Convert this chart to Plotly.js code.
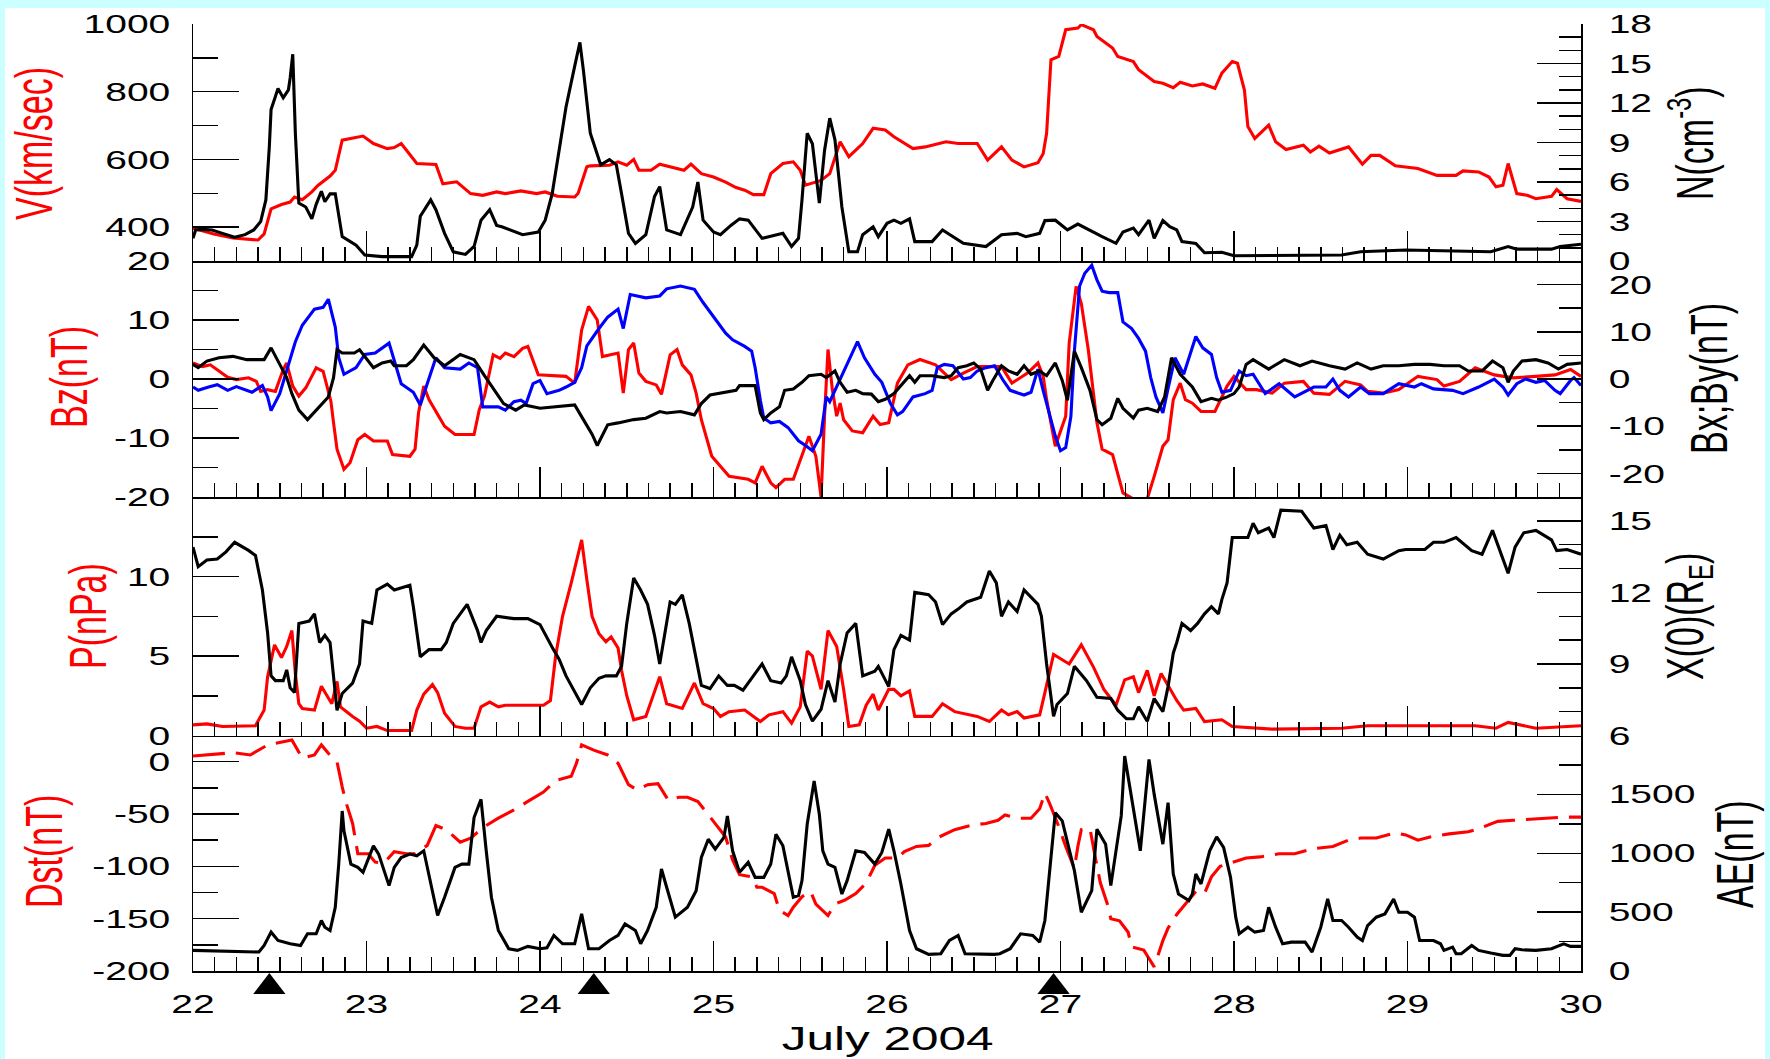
<!DOCTYPE html>
<html><head><meta charset="utf-8">
<script src="https://cdn.plot.ly/plotly-3.0.1.min.js"></script>
<style>
html,body{margin:0;padding:0;background:#ccffff;overflow:hidden;width:1770px;height:1059px}
#chart{position:absolute;left:5px;top:8px;width:1760px;height:1051px;background:#fff}
</style></head><body><div id="chart"></div>
<script>
// ---------------- data (day of July 2004) ----------------
const vDay=[22.0,22.12,22.23,22.375,22.41,22.45,22.51,22.56,22.585,22.63,22.685,22.72,22.79,22.82,22.86,22.98,23.04,23.12,23.16,23.2,23.29,23.40,23.44,23.52,23.60,23.67,23.75,23.80,23.89,23.98,24.03,24.10,24.20,24.22,24.27,24.29,24.40,24.45,24.50,24.54,24.57,24.64,24.69,24.78,24.83,24.87,24.93,25.0,25.07,25.13,25.18,25.23,25.29,25.33,25.40,25.46,25.50,25.53,25.62,25.67,25.73,25.78,25.86,25.92,25.99,26.04,26.15,26.22,26.29,26.34,26.41,26.52,26.58,26.66,26.72,26.79,26.87,26.90,26.92,26.945,26.99,27.03,27.10,27.12,27.19,27.21,27.30,27.33,27.42,27.45,27.54,27.59,27.65,27.69,27.76,27.82,27.89,27.93,27.99,28.02,28.06,28.08,28.12,28.20,28.24,28.30,28.40,28.44,28.49,28.55,28.66,28.74,28.79,28.84,28.93,29.06,29.17,29.28,29.32,29.41,29.47,29.51,29.55,29.58,29.63,29.69,29.74,29.83,29.86,29.92,30.0];
const vVal=[397,380,368,362,380,454,467,474,489,481,504,523,551,568,657,669,647,632,635,647,588,585,528,534,499,494,504,499,507,499,504,491,489,500,578,581,583,593,583,600,568,568,586,573,568,586,558,548,533,517,509,496,496,558,588,593,568,524,538,558,652,608,647,692,687,667,632,637,647,652,647,647,598,637,598,578,590,617,677,894,904,983,988,998,983,963,929,904,889,865,830,825,812,828,817,823,810,855,889,884,805,697,662,701,652,629,642,622,639,619,637,586,612,612,581,573,553,553,566,563,548,519,524,588,499,494,484,491,511,484,476];

const nDay=[22.0,22.015,22.055,22.11,22.17,22.24,22.3,22.35,22.39,22.42,22.44,22.45,22.475,22.49,22.52,22.55,22.56,22.575,22.59,22.61,22.65,22.685,22.71,22.74,22.76,22.79,22.82,22.86,22.94,22.99,23.09,23.26,23.29,23.31,23.37,23.40,23.45,23.50,23.57,23.62,23.66,23.71,23.75,23.78,23.90,23.99,24.03,24.07,24.11,24.15,24.20,24.23,24.25,24.27,24.29,24.31,24.35,24.40,24.44,24.47,24.51,24.55,24.61,24.66,24.69,24.73,24.81,24.88,24.91,24.94,25.0,25.04,25.10,25.15,25.20,25.28,25.40,25.45,25.49,25.51,25.54,25.57,25.61,25.64,25.67,25.70,25.74,25.78,25.83,25.86,25.92,25.95,26.0,26.04,26.08,26.13,26.16,26.26,26.32,26.44,26.57,26.66,26.75,26.80,26.88,26.91,26.97,27.04,27.10,27.24,27.32,27.36,27.42,27.45,27.51,27.54,27.59,27.63,27.67,27.70,27.78,27.83,27.93,28.0,28.62,28.73,28.99,29.48,29.58,29.63,29.83,29.88,30.0];
const nVal=[1.72,2.36,2.4,2.36,2.1,1.8,2.0,2.36,3.0,4.64,8.7,11.5,12.5,13.1,12.4,13.0,13.9,15.7,9.7,4.4,4.1,3.2,4.3,5.3,4.5,5.1,5.1,1.85,1.2,0.46,0.33,0.33,1.2,3.4,4.64,3.9,2.1,0.7,0.5,1.1,3.1,3.9,2.7,2.6,2.0,2.2,3.1,5.1,8.4,11.7,14.8,16.6,14.5,12.2,9.7,8.9,7.3,7.7,7.3,5.1,2.1,1.34,2.0,4.9,5.65,2.36,2.0,4.1,6.0,3.1,2.2,2.0,2.7,3.2,3.1,1.72,2.1,1.1,1.72,4.64,9.7,8.9,4.4,8.4,10.85,9.2,4.1,0.7,0.7,2.0,2.6,1.85,2.86,3.1,2.86,3.2,1.47,1.47,2.36,1.34,1.1,2.0,2.1,1.85,2.1,3.07,3.1,2.36,2.8,1.85,1.34,2.2,2.5,2.0,3.1,1.72,3.07,2.6,2.36,1.47,1.34,0.63,0.66,0.4,0.46,0.7,0.84,0.7,1.1,0.9,0.9,1.1,1.27];

const bzDay=[22.0,22.055,22.10,22.155,22.2,22.25,22.32,22.365,22.39,22.43,22.475,22.52,22.54,22.575,22.61,22.65,22.71,22.75,22.795,22.81,22.83,22.87,22.905,22.95,22.99,23.04,23.12,23.15,23.25,23.28,23.30,23.33,23.36,23.45,23.51,23.62,23.65,23.68,23.73,23.77,23.80,23.85,23.90,23.93,23.99,24.15,24.20,24.24,24.28,24.33,24.36,24.45,24.48,24.51,24.54,24.57,24.61,24.67,24.70,24.75,24.79,24.82,24.87,24.90,24.93,24.99,25.09,25.20,25.24,25.28,25.33,25.36,25.41,25.46,25.53,25.55,25.59,25.62,25.64,25.66,25.685,25.71,25.73,25.75,25.80,25.86,25.92,25.96,26.01,26.06,26.12,26.19,26.28,26.37,26.44,26.52,26.66,26.72,26.81,26.87,26.90,26.92,26.97,27.03,27.05,27.09,27.12,27.16,27.21,27.24,27.30,27.36,27.43,27.50,27.54,27.59,27.62,27.65,27.69,27.72,27.76,27.81,27.89,27.96,28.0,28.07,28.13,28.22,28.29,28.40,28.46,28.55,28.64,28.73,28.77,28.86,28.95,29.06,29.17,29.21,29.30,29.39,29.50,29.61,29.74,29.85,29.94,30.0];
const bzVal=[2.7,2.1,2.4,1.3,0.3,-0.1,0.2,-0.4,-2.1,-1.8,-2.1,1.6,2.7,-1.2,-2.9,-1.5,1.9,1.3,-3.8,-7.4,-11.9,-15.3,-14.2,-10.3,-9.4,-10.5,-10.5,-12.8,-13.1,-11.9,-5.7,-1.2,-3.5,-8.0,-9.4,-9.4,-5.2,-2.9,4.1,3.5,4.4,3.8,5.2,5.5,0.7,0.45,-0.7,8.3,12.3,10.0,3.8,4.4,-2.4,5.0,6.1,1.0,-0.4,-1.0,-2.6,4.1,5.0,2.4,0.7,-2.4,-6.9,-13.1,-16.5,-17.0,-17.6,-14.8,-17.6,-18.4,-17.0,-17.0,-11.4,-9.7,-13.1,-20.0,-6.3,5.0,-1.8,-6.3,-4.1,-6.9,-8.8,-9.1,-6.3,-7.7,-7.4,-0.7,2.4,3.3,2.4,-0.1,1.0,2.1,2.1,-0.7,1.0,2.7,0.5,-3.5,-11.4,-6.3,6.1,15.7,12.8,5.0,-7.4,-11.9,-12.8,-19.3,-20.5,-20.3,-16.5,-11.4,-10.3,-3.5,-0.7,-3.5,-4.1,-5.5,-5.5,-1.2,0.45,-1.8,-1.8,-2.4,-0.7,-0.4,-2.4,-2.6,-0.4,-1.0,-2.1,-2.4,-1.8,0.45,-0.1,-1.2,-0.4,1.9,0.7,0.2,0.45,0.7,1.6,0.45];

const byDay=[22.0,22.03,22.09,22.14,22.2,22.25,22.34,22.40,22.43,22.45,22.50,22.54,22.59,22.63,22.70,22.75,22.78,22.82,22.84,22.87,22.94,22.99,23.05,23.13,23.16,23.20,23.27,23.31,23.35,23.40,23.45,23.54,23.59,23.64,23.67,23.76,23.80,23.85,23.89,23.92,23.96,24.0,24.04,24.11,24.15,24.20,24.24,24.27,24.34,24.39,24.45,24.48,24.52,24.61,24.69,24.73,24.81,24.89,24.94,25.0,25.07,25.11,25.18,25.22,25.24,25.27,25.29,25.33,25.38,25.43,25.49,25.53,25.57,25.62,25.65,25.67,25.70,25.73,25.77,25.83,25.87,25.93,25.97,26.02,26.06,26.09,26.15,26.22,26.26,26.29,26.33,26.38,26.44,26.48,26.52,26.57,26.62,26.67,26.71,26.79,26.83,26.87,26.90,26.93,26.97,27.0,27.03,27.06,27.08,27.11,27.14,27.18,27.21,27.24,27.28,27.33,27.36,27.41,27.45,27.49,27.52,27.55,27.59,27.62,27.66,27.71,27.78,27.82,27.87,27.90,27.93,27.98,28.03,28.07,28.11,28.18,28.26,28.35,28.46,28.53,28.57,28.61,28.66,28.73,28.78,28.86,28.95,29.04,29.08,29.15,29.26,29.32,29.41,29.50,29.55,29.58,29.63,29.68,29.74,29.79,29.85,29.88,29.94,29.96,30.0];
const byVal=[-1.7,-2.4,-1.7,-1.2,-2.4,-1.6,-2.8,-1.4,-3.8,-6.7,-3.1,1.7,7.9,11.4,14.8,15.2,16.9,11.0,4.5,1.0,2.4,5.2,5.5,7.6,3.8,-1.0,-2.8,-5.5,-1.0,4.5,2.4,2.1,3.4,2.4,-5.9,-5.9,-6.6,-4.8,-4.5,-5.2,-1.0,-0.3,-3.1,-2.4,-1.7,-0.7,2.4,7.0,10.7,13.1,14.8,10.7,17.9,17.2,17.6,19.1,19.7,19.0,16.2,13.1,9.7,8.3,6.9,5.9,2.4,-4.5,-8.3,-9.3,-9.0,-10.3,-13.1,-14.1,-15.2,-11.7,-3.8,-4.8,-2.4,-0.3,3.1,7.9,4.5,1.0,-0.7,-5.2,-7.6,-6.9,-3.8,-3.1,-2.4,2.4,3.1,2.8,0,0.3,1.7,2.4,2.8,-0.3,-2.4,-3.4,-2.8,2.1,-2.4,-6.6,-12.1,-15.2,-14.5,-7.9,5.9,19.7,22.4,24.1,21.0,18.6,18.3,18.3,12.1,10.7,8.6,5.9,0.3,-3.8,-7.2,-2.0,4.5,1.0,9.0,6.6,5.2,0.3,-2.8,-2.4,1.7,0.7,1.0,-3.1,-1.0,-3.8,-1.7,-1.7,0,-2.4,-3.8,-1.7,-3.1,-3.1,-1.0,-1.7,-1.0,-2.1,-2.4,-3.1,-1.7,0,-1.7,-3.4,-1.0,0,-0.7,-0.3,-2.4,-3.1,-0.3,0.3,-1.4];

const bxDay=[22.0,22.03,22.08,22.15,22.23,22.31,22.41,22.45,22.50,22.54,22.57,22.61,22.66,22.73,22.78,22.81,22.83,22.86,22.93,22.96,23.01,23.04,23.09,23.14,23.16,23.23,23.27,23.33,23.39,23.45,23.54,23.62,23.68,23.73,23.79,23.86,23.91,24.0,24.07,24.20,24.25,24.30,24.33,24.39,24.45,24.54,24.61,24.69,24.73,24.81,24.89,24.93,24.98,25.07,25.13,25.15,25.24,25.27,25.29,25.33,25.38,25.41,25.46,25.51,25.55,25.62,25.65,25.70,25.73,25.77,25.82,25.86,25.91,25.95,25.99,26.04,26.09,26.13,26.16,26.19,26.26,26.33,26.37,26.41,26.46,26.50,26.54,26.58,26.61,26.66,26.70,26.75,26.79,26.83,26.88,26.92,26.97,27.01,27.04,27.08,27.12,27.17,27.21,27.24,27.29,27.33,27.36,27.42,27.45,27.50,27.56,27.60,27.64,27.69,27.76,27.81,27.87,27.91,27.96,28.0,28.03,28.07,28.11,28.20,28.29,28.38,28.45,28.55,28.64,28.71,28.79,28.86,28.95,29.04,29.13,29.21,29.30,29.35,29.43,29.49,29.55,29.58,29.61,29.66,29.74,29.81,29.87,29.92,30.0];
const bxVal=[3.1,2.4,3.8,4.5,4.8,4.1,4.1,6.6,3.1,0.3,-3.1,-6.6,-8.6,-5.9,-3.8,0.3,6.2,5.5,5.5,6.2,3.8,2.4,3.4,3.8,2.8,2.8,4.1,7.2,4.5,2.8,5.2,4.1,0.7,-2.1,-5.2,-6.6,-5.5,-6.2,-5.9,-5.5,-8.6,-11.7,-14.1,-9.7,-9.3,-8.6,-8.3,-6.9,-7.2,-6.9,-7.6,-5.2,-3.4,-2.8,-2.4,-1.4,-1.4,-7.2,-8.6,-7.2,-5.9,-2.4,-2.1,-0.7,0.7,1.0,0.3,1.7,-0.7,-2.8,-2.4,-3.1,-3.2,-4.8,-4.3,-3.1,-1.0,0.7,-0.7,0.7,0.7,0.3,0.7,2.4,2.8,3.4,2.1,-2.4,-0.3,2.8,1.7,1.0,2.8,1.0,1.7,0.7,3.4,-0.3,-4.5,5.9,2.4,-2.4,-8.6,-9.7,-8.3,-4.1,-6.2,-8.3,-6.6,-6.2,-6.9,-3.8,4.5,1.0,-1.7,-4.8,-4.1,-4.5,-3.8,-3.1,-1.7,3.1,4.1,2.1,4.1,2.8,3.8,2.8,2.1,3.4,2.1,2.8,2.8,3.1,3.1,2.8,2.8,1.7,1.7,3.8,2.4,-0.7,1.7,3.8,4.1,3.4,2.1,3.1,3.4];

const pDay=[22.0,22.08,22.17,22.36,22.41,22.43,22.47,22.51,22.54,22.57,22.59,22.61,22.63,22.70,22.74,22.77,22.80,22.83,22.85,22.92,22.96,23.0,23.06,23.12,23.26,23.29,23.33,23.38,23.41,23.45,23.51,23.57,23.62,23.66,23.71,23.76,23.80,24.02,24.06,24.09,24.13,24.18,24.22,24.24,24.27,24.30,24.34,24.38,24.41,24.45,24.47,24.50,24.54,24.61,24.69,24.73,24.82,24.89,24.94,25.0,25.04,25.09,25.18,25.22,25.27,25.32,25.40,25.45,25.50,25.54,25.57,25.62,25.66,25.71,25.75,25.78,25.84,25.88,25.92,25.95,26.01,26.04,26.08,26.13,26.16,26.26,26.32,26.39,26.52,26.59,26.66,26.70,26.75,26.79,26.88,26.91,26.96,27.05,27.12,27.19,27.25,27.32,27.37,27.42,27.45,27.50,27.54,27.58,27.62,27.67,27.71,27.78,27.83,27.93,27.99,28.22,28.62,28.77,29.39,29.51,29.58,29.74,30.0];
const pVal=[0.67,0.73,0.57,0.61,1.6,3.7,5.7,4.9,5.6,6.6,3.9,2.0,1.7,1.6,3.1,2.5,2.0,3.4,1.8,1.2,0.9,0.46,0.57,0.31,0.31,1.6,2.6,3.2,2.7,1.4,0.57,0.46,0.46,1.8,2.1,1.8,1.9,1.9,2.2,5.0,7.5,9.6,11.3,12.3,9.8,7.5,6.4,5.9,6.2,5.5,4.1,2.5,0.99,1.2,3.7,2.0,1.7,3.3,2.0,1.7,1.2,1.5,1.6,1.3,0.88,1.3,1.5,0.78,1.8,5.3,5.0,2.9,6.6,5.6,2.9,0.57,0.67,1.9,2.6,1.6,2.9,2.9,2.5,2.8,1.2,1.2,2.0,1.5,1.2,0.88,1.6,1.3,1.5,1.1,1.3,2.7,5.1,4.5,5.7,4.3,2.9,1.9,3.5,3.7,2.7,4.1,2.5,3.9,3.1,2.2,1.6,1.7,0.88,0.99,0.57,0.4,0.46,0.61,0.61,0.46,0.82,0.46,0.61];

const x0Day=[22.0,22.03,22.08,22.14,22.19,22.24,22.32,22.36,22.40,22.43,22.45,22.475,22.52,22.54,22.56,22.585,22.61,22.67,22.70,22.73,22.76,22.79,22.83,22.86,22.92,22.96,22.98,23.03,23.06,23.12,23.16,23.25,23.27,23.31,23.36,23.43,23.46,23.50,23.58,23.64,23.66,23.69,23.75,23.85,23.93,24.0,24.07,24.11,24.15,24.20,24.24,24.29,24.34,24.38,24.44,24.47,24.50,24.54,24.58,24.62,24.66,24.69,24.75,24.78,24.82,24.86,24.89,24.93,24.98,25.03,25.08,25.12,25.17,25.23,25.28,25.33,25.39,25.42,25.45,25.50,25.53,25.57,25.62,25.66,25.70,25.73,25.77,25.82,25.86,25.93,25.95,26.01,26.04,26.08,26.13,26.16,26.24,26.28,26.32,26.37,26.41,26.46,26.54,26.59,26.63,26.66,26.70,26.75,26.79,26.87,26.89,26.92,26.96,26.98,27.04,27.08,27.15,27.21,27.29,27.33,27.38,27.42,27.45,27.50,27.54,27.59,27.62,27.65,27.67,27.70,27.75,27.79,27.83,27.87,27.91,27.93,27.96,27.99,28.08,28.11,28.14,28.20,28.23,28.27,28.39,28.46,28.53,28.57,28.61,28.65,28.71,28.77,28.86,28.95,28.99,29.10,29.15,29.21,29.28,29.37,29.43,29.49,29.52,29.58,29.62,29.67,29.74,29.83,29.86,29.92,30.0];
const x0Val=[13.9,13.08,13.36,13.4,13.7,14.1,13.76,13.55,12.1,10.3,8.5,8.3,8.3,8.75,8.0,7.8,10.7,10.8,11.1,9.9,10.2,9.9,7.06,7.76,8.2,9.0,10.8,10.7,12.1,12.35,12.1,12.3,11.4,9.3,9.6,9.6,9.9,10.7,11.5,10.4,9.9,10.4,11.0,10.9,10.9,10.65,9.7,9.2,8.5,7.8,7.3,8.0,8.4,8.5,8.5,8.9,10.7,12.6,12.1,11.5,10.2,9.0,11.6,11.5,11.9,10.7,9.6,8.1,7.97,8.5,8.1,8.1,7.9,8.5,9.0,8.3,8.2,8.5,9.3,8.3,7.3,6.6,7.1,8.3,7.4,9.0,10.3,10.7,8.5,8.7,8.9,8.05,9.6,10.2,10.0,12.0,11.9,11.6,10.65,11.1,11.3,11.6,11.8,12.9,12.4,11.0,11.6,11.2,12.1,11.5,11.0,9.0,6.8,7.3,7.76,8.9,8.3,7.6,7.55,7.06,6.7,6.7,7.2,6.6,7.55,7.0,8.05,9.45,9.9,10.7,10.4,10.7,11.1,11.4,11.1,11.7,12.4,14.3,14.3,14.9,14.5,14.7,14.3,15.45,15.4,14.7,14.8,13.8,14.4,14.0,14.1,13.6,13.4,13.75,13.8,13.8,14.1,14.1,14.3,13.75,13.6,14.6,14.0,12.8,13.9,14.5,14.6,14.2,13.75,13.8,13.6];

const dstDay=[22.0,22.12,22.23,22.33,22.43,22.57,22.63,22.70,22.74,22.78,22.83,22.86,22.88,22.92,22.95,23.01,23.05,23.10,23.16,23.23,23.28,23.35,23.40,23.46,23.54,23.60,23.68,23.76,23.85,23.93,24.02,24.09,24.18,24.21,24.24,24.31,24.39,24.45,24.47,24.51,24.56,24.62,24.68,24.74,24.80,24.85,24.91,24.98,25.02,25.07,25.11,25.15,25.22,25.25,25.28,25.35,25.38,25.43,25.46,25.51,25.56,25.59,25.66,25.70,25.76,25.82,25.88,25.93,25.99,26.06,26.10,26.17,26.24,26.30,26.39,26.48,26.57,26.64,26.68,26.75,26.83,26.88,26.91,26.94,26.99,27.03,27.08,27.10,27.12,27.17,27.20,27.23,27.27,27.29,27.34,27.39,27.41,27.48,27.54,27.57,27.59,27.62,27.67,27.72,27.78,27.83,27.87,27.92,28.0,28.07,28.15,28.26,28.35,28.46,28.57,28.66,28.73,28.82,28.93,28.99,29.06,29.13,29.24,29.35,29.41,29.52,29.61,29.70,29.81,29.90,30.0];
const dstVal=[5.4,7.3,8.6,6.4,16,20.7,3.2,6.4,16,8,0,-24,-38,-59,-88,-88,-96,-97,-86,-88,-88,-80,-61,-65,-77,-73,-62,-54,-46,-38,-29,-18,-14,-1.6,16,11,6.4,-1.6,-8,-22,-27,-22,-21,-37,-34,-34,-38,-53,-62,-72,-94,-108,-110,-120,-120,-126,-142,-147,-139,-129,-124,-136,-147,-136,-132,-126,-116,-99,-92,-92,-86,-81,-80,-72,-65,-61,-59,-56,-51,-54,-54,-45,-30,-41,-62,-81,-102,-81,-65,-64,-91,-116,-136,-150,-152,-163,-177,-180,-196,-180,-171,-159,-146,-136,-124,-126,-110,-100,-96,-92,-91,-88,-88,-83,-81,-75,-73,-73,-68,-70,-75,-72,-69,-67,-64,-57,-56,-55,-54,-53,-53];

const aeDay=[22.0,22.12,22.25,22.38,22.41,22.45,22.49,22.56,22.62,22.66,22.71,22.74,22.76,22.79,22.82,22.84,22.86,22.87,22.91,22.95,22.98,23.04,23.07,23.13,23.16,23.20,23.25,23.29,23.33,23.36,23.41,23.45,23.51,23.55,23.59,23.62,23.66,23.69,23.72,23.76,23.82,23.87,23.93,24.0,24.04,24.08,24.13,24.20,24.24,24.28,24.34,24.40,24.45,24.49,24.55,24.58,24.62,24.67,24.70,24.73,24.78,24.85,24.90,24.93,24.97,25.01,25.06,25.08,25.11,25.15,25.20,25.24,25.29,25.33,25.36,25.40,25.43,25.46,25.49,25.51,25.54,25.58,25.61,25.63,25.66,25.70,25.74,25.77,25.82,25.87,25.93,25.97,26.01,26.04,26.08,26.13,26.17,26.24,26.31,26.36,26.41,26.45,26.62,26.65,26.71,26.77,26.84,26.88,26.91,26.94,26.97,27.01,27.08,27.12,27.18,27.21,27.26,27.29,27.35,27.37,27.40,27.46,27.51,27.54,27.59,27.62,27.65,27.68,27.74,27.76,27.78,27.81,27.86,27.90,27.94,27.98,28.01,28.03,28.08,28.12,28.17,28.20,28.24,28.28,28.33,28.41,28.45,28.50,28.54,28.57,28.62,28.66,28.71,28.74,28.77,28.82,28.87,28.92,28.95,29.0,29.04,29.07,29.15,29.19,29.21,29.26,29.28,29.31,29.37,29.41,29.48,29.55,29.59,29.62,29.66,29.74,29.83,29.90,29.94,30.0];
const aeVal=[175,169,161,161,217,330,259,231,217,316,316,429,372,344,541,908,1359,1190,908,880,838,1063,993,725,880,964,993,979,1021,823,471,626,880,908,908,1303,1458,1021,626,344,189,175,209,189,197,302,231,231,485,189,189,259,302,400,344,231,344,541,866,711,457,541,682,964,1119,1035,1134,1317,1021,838,922,795,795,908,1162,1063,852,626,640,767,1246,1613,1331,1021,908,880,654,767,1021,1007,908,1007,1204,1021,739,344,189,141,147,259,302,147,141,147,189,316,302,245,429,908,1345,1275,852,499,682,1204,1077,725,1317,1825,1543,1021,1796,1500,1077,1430,823,654,598,654,823,739,1021,1139,1049,795,457,316,372,330,344,541,372,231,245,245,161,372,612,429,429,372,288,259,386,457,485,612,499,499,457,259,259,231,175,203,147,147,217,175,152,133,133,189,180,175,189,231,209,209];

// storm-onset markers (triangles under the time axis)
const eventDay=[22.44,24.31,26.96];

// ---------------- axes / ticks ----------------
const dayRange=[22,30];
const dayTicks=[22,23,24,25,26,27,28,29,30];
const dayMinor=[]; for(let d=22;d<30;d+=0.125){ if(Math.abs(d-Math.round(d))>1e-6) dayMinor.push(+d.toFixed(3)); }
const vRange=[300,1000], vTicks=[400,600,800,1000], vMinor=[500,700,900];
const nRange=[0,18], nTicks=[0,3,6,9,12,15,18], nMinor=[1,2,4,5,7,8,10,11,13,14,16,17];
const bzRange=[-20,20], bzTicks=[-20,-10,0,10,20], bzText=['-20','-10','0','10','20'], bzMinor=[-15,-5,5,15];
const bxyRange=[-25,25], bxyTicks=[-20,-10,0,10,20], bxyText=['-20','-10','0','10','20'], bxyMinor=[-15,-5,5,15];
const pRange=[0,15], pTicks=[0,5,10], pMinor=[2.5,7.5,12.5];
const x0Range=[6,16], x0Ticks=[6,9,12,15], x0Minor=[7,8,10,11,13,14];
const dstRange=[-200,25], dstTicks=[-200,-150,-100,-50,0], dstText=['-200','-150','-100','-50','0'], dstMinor=[-175,-125,-75,-25];
const aeRange=[0,2000], aeTicks=[0,500,1000,1500], aeMinor=[250,750,1250,1750];

const FONT='Liberation Sans, Arial, Helvetica, sans-serif';
const tickFont={family:FONT,size:26,color:'#000'};
const LW=1.5;

// plot area in page pixels: x 193..1581, y 24..995 (strip 971..995 holds the triangles)
const PX0=193, PX1=1581, PY0=24, PY1=995;
const pyDom=(a,b)=>[(PY1-b)/(PY1-PY0),(PY1-a)/(PY1-PY0)];
const D1=pyDom(24,261), D2=pyDom(261,497), D3=pyDom(497,735.5), D4=pyDom(735.5,971), D5=pyDom(971,995);

function yAx(domain,range,tv,tt,mv,right,extra){
  const a={
    domain:domain, range:range, tickmode:'array', tickvals:tv,
    ticks:'inside', ticklen:right?44:46, tickwidth:LW, tickcolor:'#000',
    minor:{tickmode:'array', tickvals:mv, ticks:'inside', ticklen:right?22:25, tickwidth:LW, tickcolor:'#000', showgrid:false},
    showline:true, linecolor:'#000', linewidth:LW, showgrid:false, zeroline:false,
    tickfont:tickFont, ticklabelstandoff:right?21:16, fixedrange:true
  };
  if(tt) a.ticktext=tt;
  return Object.assign(a,extra||{});
}
function xAx(anchor,labels){
  return {domain:[0,1], range:dayRange, anchor:anchor, tickmode:'array', tickvals:dayTicks,
    ticks:'inside', ticklen:30, tickwidth:LW, tickcolor:'#000',
    minor:{tickmode:'array', tickvals:dayMinor, ticks:'inside', ticklen:14, tickwidth:LW, tickcolor:'#000', showgrid:false},
    showline:true, linecolor:'#000', linewidth:LW, showgrid:false, zeroline:false,
    showticklabels:labels, tickfont:tickFont, ticklabelstandoff:9, fixedrange:true};
}

const RED='#ff0000', BLUE='#0000ff', BLK='#000000', W=3.1;

const traces=[
  {x:vDay,y:vVal,xaxis:'x',yaxis:'y',mode:'lines',line:{color:RED,width:W}},
  {x:nDay,y:nVal,xaxis:'x',yaxis:'y2',mode:'lines',line:{color:BLK,width:W}},
  {x:bzDay,y:bzVal,xaxis:'x2',yaxis:'y3',mode:'lines',line:{color:RED,width:W}},
  {x:byDay,y:byVal,xaxis:'x2',yaxis:'y4',mode:'lines',line:{color:BLUE,width:W}},
  {x:bxDay,y:bxVal,xaxis:'x2',yaxis:'y4',mode:'lines',line:{color:BLK,width:W}},
  {x:pDay,y:pVal,xaxis:'x3',yaxis:'y5',mode:'lines',line:{color:RED,width:W}},
  {x:x0Day,y:x0Val,xaxis:'x3',yaxis:'y6',mode:'lines',line:{color:BLK,width:W}},
  {x:dstDay,y:dstVal,xaxis:'x4',yaxis:'y7',mode:'lines',line:{color:RED,width:W,dash:'32px,11px'}},
  {x:aeDay,y:aeVal,xaxis:'x4',yaxis:'y8',mode:'lines',line:{color:BLK,width:W}},
  {x:eventDay,y:eventDay.map(()=>0.33),xaxis:'x4',yaxis:'y9',mode:'markers',cliponaxis:false,
   marker:{symbol:'triangle-up',size:28,color:BLK,line:{width:0}}}
];

function ann(text,px,py,color,angle,size){
  return {text:text, xref:'paper', yref:'paper', x:(px-PX0)/(PX1-PX0), y:(PY1-py)/(PY1-PY0),
    xanchor:'center', yanchor:'middle', showarrow:false, textangle:angle,
    font:{family:FONT,size:size,color:color}};
}

const layout={
  width:1760, height:1051, margin:{l:PX0-5,r:1765-PX1,t:PY0-8,b:1059-PY1},
  paper_bgcolor:'#ffffff', plot_bgcolor:'#ffffff', showlegend:false,
  xaxis:xAx('y',false), xaxis2:xAx('y3',false), xaxis3:xAx('y5',false), xaxis4:xAx('y7',true),
  yaxis:yAx(D1,vRange,vTicks,null,vMinor,false,{anchor:'x'}),
  yaxis2:yAx(D1,nRange,nTicks,null,nMinor,true,{anchor:'x',overlaying:'y',side:'right'}),
  yaxis3:yAx(D2,bzRange,bzTicks,bzText,bzMinor,false,{anchor:'x2'}),
  yaxis4:yAx(D2,bxyRange,bxyTicks,bxyText,bxyMinor,true,{anchor:'x2',overlaying:'y3',side:'right'}),
  yaxis5:yAx(D3,pRange,pTicks,null,pMinor,false,{anchor:'x3'}),
  yaxis6:yAx(D3,x0Range,x0Ticks,null,x0Minor,true,{anchor:'x3',overlaying:'y5',side:'right'}),
  yaxis7:yAx(D4,dstRange,dstTicks,dstText,dstMinor,false,{anchor:'x4'}),
  yaxis8:yAx(D4,aeRange,aeTicks,null,aeMinor,true,{anchor:'x4',overlaying:'y7',side:'right'}),
  yaxis9:{domain:D5, range:[0,1], anchor:'x4', showline:false, showticklabels:false, ticks:'', showgrid:false, zeroline:false, fixedrange:true},
  annotations:[
    ann('V(km/sec)',34,144,RED,-90,34),
    ann('Bz(nT)',69,377,RED,-90,34),
    ann('P(nPa)',88,616,RED,-90,34),
    ann('Dst(nT)',44,852,RED,-90,34),
    ann('N(cm<sup>-3</sup>)',1690,143,BLK,-90,34),
    ann('Bx;By(nT)',1709,379,BLK,-90,34),
    ann('X(0)(R<sub>E</sub>)',1688,617,BLK,-90,34),
    ann('AE(nT)',1735,854,BLK,-90,34),
    ann('July 2004',887,1038,BLK,0,33)
  ]
};

// widen glyphs horizontally (the reference lettering is horizontally stretched)
function stretchText(gd,s){
  gd.querySelectorAll('.main-svg text').forEach(function(el){
    let bb; try{bb=el.getBBox();}catch(e){return;}
    if(!bb||!bb.width) return;
    const m=el.getCTM();
    const rotated=m&&Math.abs(m.b)>0.5;
    let t;
    if(!rotated){
      const a=el.getAttribute('text-anchor')||'start';
      const cx=a==='end'?bb.x+bb.width:(a==='middle'?bb.x+bb.width/2:bb.x);
      t='translate('+cx+',0) scale('+s+',1) translate('+(-cx)+',0)';
    } else {
      const cy=bb.y+bb.height/2;
      t='translate(0,'+cy+') scale(1,'+s+') translate(0,'+(-cy)+')';
    }
    el.setAttribute('transform',((el.getAttribute('transform')||'')+' '+t).trim());
  });
}

const gd=document.getElementById('chart');
Plotly.newPlot(gd,traces,layout,{staticPlot:true,displayModeBar:false}).then(function(){stretchText(gd,1.5);});
</script></body></html>
